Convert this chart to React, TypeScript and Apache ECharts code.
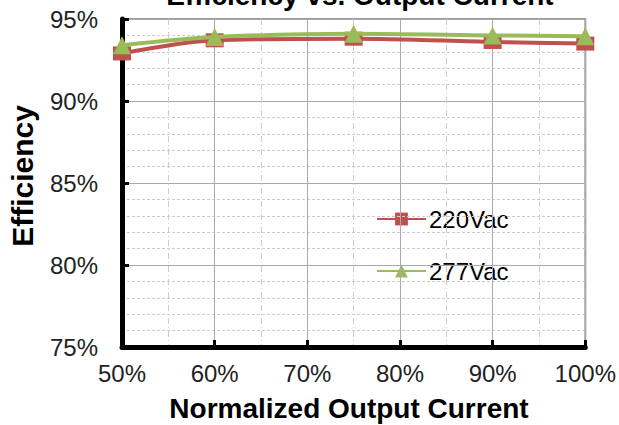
import React, { useEffect, useRef } from "react";
import * as echarts from "echarts";

const currents = [50, 60, 75, 90, 100];
const eff220 = [92.9, 93.7, 93.8, 93.6, 93.5];
const eff277 = [93.4, 93.9, 94.1, 94.0, 93.95];
const seriesNames = ["220Vac", "277Vac"];
const xTicks = [50, 60, 70, 80, 90, 100];
const yTicks = [75, 80, 85, 90, 95];
const titleText = "Efficiency vs. Output Current";
const xName = "Normalized Output Current";
const yName = "Efficiency";

const FONT = "Liberation Sans, Arial, sans-serif";

export default function App() {
  const ref = useRef<HTMLDivElement>(null);
  useEffect(() => {
    const chart = echarts.init(ref.current!, null, { renderer: "svg" });
    const xMin = xTicks[0];
    const xMax = xTicks[xTicks.length - 1];
    const yMin = yTicks[0];
    const yMax = yTicks[yTicks.length - 1];
    chart.setOption({
      animation: false,
      backgroundColor: "#ffffff",
      title: {
        text: titleText,
        left: 355,
        textAlign: "center",
        top: -24,
        textStyle: { fontFamily: FONT, fontSize: 28, fontWeight: "bold", color: "#000" },
      },
      graphic: [
        {
          type: "text",
          x: 22,
          y: 176,
          rotation: Math.PI / 2,
          style: {
            text: yName,
            fontFamily: FONT,
            fontSize: 30,
            fontWeight: "bold",
            fill: "#000",
            textAlign: "center",
            textVerticalAlign: "middle",
          },
        },
        {
          type: "text",
          x: 349,
          y: 408,
          style: {
            text: xName,
            fontFamily: FONT,
            fontSize: 28,
            fontWeight: "bold",
            fill: "#000",
            textAlign: "center",
            textVerticalAlign: "middle",
          },
        },
      ],
      legend: {
        orient: "vertical",
        left: 364,
        top: 199,
        itemWidth: 49,
        itemHeight: 16,
        itemGap: 28,
        backgroundColor: "#ffffff",
        padding: [8, 22, 8, 12],
        textStyle: { fontFamily: FONT, fontSize: 24, color: "#000", padding: [0, 0, 0, -2] },
        data: seriesNames,
      },
      grid: {
        left: 122,
        right: 32,
        top: 19,
        bottom: 78,
        show: true,
        borderColor: "#999",
        borderWidth: 2,
      },
      xAxis: {
        type: "value",
        min: xMin,
        max: xMax,
        interval: 10,
        axisLine: { show: true, onZero: false, lineStyle: { color: "#000", width: 5 } },
        axisTick: { show: true, inside: true, length: 7, lineStyle: { color: "#000", width: 3 } },
        axisLabel: {
          margin: 14,
          formatter: "{value}%",
          fontFamily: FONT,
          fontSize: 24,
          color: "#222",
        },
        splitLine: { show: true, lineStyle: { color: "#aaa", width: 1 } },
        minorTick: { show: false, splitNumber: 2 },
        minorSplitLine: { show: true, lineStyle: { color: "#ccc", type: [6, 3, 1, 3], width: 1 } },
        z: 8,
      },
      yAxis: {
        type: "value",
        min: yMin,
        max: yMax,
        interval: 5,
        axisLine: { show: true, onZero: false, lineStyle: { color: "#000", width: 5 } },
        axisTick: { show: true, inside: true, length: 7, lineStyle: { color: "#000", width: 3 } },
        axisLabel: {
          margin: 24,
          formatter: "{value}%",
          fontFamily: FONT,
          fontSize: 24,
          color: "#222",
        },
        splitLine: { show: true, lineStyle: { color: "#aaa", width: 1 } },
        minorTick: { show: false, splitNumber: 5 },
        minorSplitLine: { show: true, lineStyle: { color: "#ccc", type: [3, 2], width: 1 } },
        z: 8,
      },
      series: [
        {
          name: seriesNames[0],
          type: "line",
          smooth: 0.3,
          data: currents.map((c, i) => [c, eff220[i]]),
          color: "#C0504D",
          lineStyle: { width: 4, color: "#C0504D" },
          symbol: "rect",
          symbolSize: [18, 14],
          itemStyle: { color: "#C0504D" },
          z: 9,
        },
        {
          name: seriesNames[1],
          type: "line",
          smooth: 0.3,
          data: currents.map((c, i) => [c, eff277[i]]),
          color: "#9BBB59",
          lineStyle: { width: 4, color: "#9BBB59" },
          symbol: "triangle",
          symbolSize: [18, 18],
          itemStyle: { color: "#9BBB59" },
          z: 10,
        },
      ],
    });
    return () => chart.dispose();
  }, []);
  return (
    <div
      ref={ref}
      style={{ position: "fixed", left: 0, top: 0, width: 619, height: 425 }}
    />
  );
}
